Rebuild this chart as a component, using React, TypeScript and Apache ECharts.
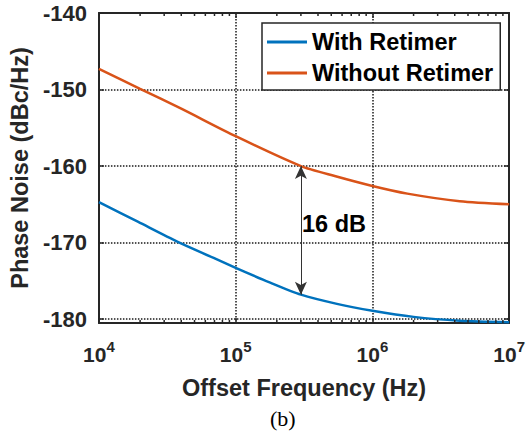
import React, { useEffect, useRef } from 'react';
import * as echarts from 'echarts';

const freqWith = [1e4, 1.94e4, 3.77e4, 6.9e4, 1e5, 1.77e5, 3e5, 5.5e5, 1e6, 2e6, 4.35e6, 1e7];
const withRetimer = [-164.7, -167.3, -169.9, -172.0, -173.3, -175.2, -176.8, -178.0, -178.9, -179.7, -180.2, -180.4];
const freqWithout = [1e4, 2e4, 4e4, 1e5, 3e5, 5.3e5, 1e6, 1.8e6, 4.35e6, 1e7];
const withoutRetimer = [-147.3, -149.9, -152.5, -156.1, -160.0, -161.3, -162.6, -163.6, -164.6, -165.0];
const yTicks = [-180, -170, -160, -150, -140];
const minorTicks = [2, 3, 4, 5, 6, 7, 8, 9].flatMap((m) => [1e4, 1e5, 1e6].map((d) => m * d));
const arrowFreq = 3e5;
const arrowTop = -160;
const arrowBottom = -176.8;

const X_MIN = 1e4;
const X_MAX = 1e7;
const Y_MIN = -180.5;
const Y_MAX = -140;

const FONT = '"Liberation Sans", Arial, Helvetica, sans-serif';
const AX = '#262626';

export default function App() {
  const ref = useRef<HTMLDivElement>(null);
  useEffect(() => {
    if (!ref.current) return;
    const chart = echarts.init(ref.current, null, { renderer: 'svg' });
    const labelFmt = (v: number) => `{b|10}{s|${Math.round(Math.log10(v))}}`;
    chart.setOption({
      animation: false,
      backgroundColor: '#fff',
      grid: { left: 95, right: 16, top: 13, bottom: 115, containLabel: false },
      legend: {
        data: ['With Retimer', 'Without Retimer'],
        orient: 'vertical',
        left: 262,
        top: 23,
        padding: [7, 7, 5, 5],
        itemGap: 7,
        itemWidth: 40,
        itemHeight: 3,
        icon: 'rect',
        borderColor: AX,
        borderWidth: 1.5,
        borderRadius: 0,
        backgroundColor: '#fff',
        selectedMode: false,
        textStyle: { fontFamily: FONT, fontWeight: 'bold', fontSize: 23.5, lineHeight: 23, color: '#000' },
      },
      xAxis: [
        {
          type: 'log',
          logBase: 10,
          min: X_MIN,
          max: X_MAX,
          position: 'bottom',
          name: 'Offset Frequency (Hz)',
          nameLocation: 'middle',
          nameGap: 53,
          nameTextStyle: { fontFamily: FONT, fontWeight: 'bold', fontSize: 23.5, color: AX },
          axisLine: { show: true, lineStyle: { color: AX, width: 2 } },
          axisTick: { show: true, inside: true, length: 5, lineStyle: { color: AX, width: 1.5 } },
          minorTick: { show: false },
          axisLabel: {
            margin: 16,
            formatter: labelFmt,
            rich: {
              b: { fontFamily: FONT, fontWeight: 'bold', fontSize: 21, color: AX, lineHeight: 30 },
              s: { fontFamily: FONT, fontWeight: 'bold', fontSize: 15, color: AX, lineHeight: 14, verticalAlign: 'top' },
            },
          },
          splitLine: { show: true, lineStyle: { color: '#1a1a1a', width: 1.5, type: [1.5, 1.5] } },
        },
        {
          type: 'log',
          logBase: 10,
          min: X_MIN,
          max: X_MAX,
          position: 'top',
          axisLine: { show: true, lineStyle: { color: AX, width: 2 } },
          axisTick: { show: true, inside: true, length: 5, lineStyle: { color: AX, width: 1.5 } },
          axisLabel: { show: false },
          splitLine: { show: false },
        },
      ],
      yAxis: [
        {
          type: 'value',
          min: Y_MIN,
          max: Y_MAX,
          position: 'left',
          name: 'Phase Noise (dBc/Hz)',
          nameLocation: 'middle',
          nameGap: 64,
          nameRotate: 90,
          nameTextStyle: { fontFamily: FONT, fontWeight: 'bold', fontSize: 23.5, color: AX },
          axisLine: { show: true, lineStyle: { color: AX, width: 2 } },
          axisTick: { show: true, inside: true, length: 5, customValues: yTicks, lineStyle: { color: AX, width: 1.5 } },
          axisLabel: {
            margin: 12,
            customValues: yTicks,
            fontFamily: FONT,
            fontWeight: 'bold',
            fontSize: 22,
            color: AX,
          },
          splitLine: { show: true, lineStyle: { color: '#1a1a1a', width: 1.5, type: [1.5, 1.5] } },
        },
        {
          type: 'value',
          min: Y_MIN,
          max: Y_MAX,
          position: 'right',
          axisLine: { show: true, lineStyle: { color: AX, width: 2 } },
          axisTick: { show: true, inside: true, length: 5, customValues: yTicks, lineStyle: { color: AX, width: 1.5 } },
          axisLabel: { show: false, customValues: yTicks },
          splitLine: { show: false },
        },
      ],
      series: [
        {
          name: 'With Retimer',
          type: 'line',
          xAxisIndex: 0,
          yAxisIndex: 0,
          data: freqWith.map((f, i) => [f, withRetimer[i]]),
          smooth: 0.25,
          symbol: 'none',
          color: '#0072BD',
          lineStyle: { color: '#0072BD', width: 2.5 },
          emphasis: { disabled: true },
          z: 3,
          markLine: {
            silent: true,
            symbol: ['arrow', 'arrow'],
            symbolSize: [9, 13],
            label: { show: false },
            emphasis: { disabled: true },
            lineStyle: { color: '#333', width: 1, type: 'solid' },
            data: [[{ coord: [arrowFreq, arrowTop] }, { coord: [arrowFreq, arrowBottom] }]],
          },
        },
        {
          name: 'Without Retimer',
          type: 'line',
          xAxisIndex: 0,
          yAxisIndex: 0,
          data: freqWithout.map((f, i) => [f, withoutRetimer[i]]),
          smooth: 0.25,
          symbol: 'none',
          color: '#D95319',
          lineStyle: { color: '#D95319', width: 2.5 },
          emphasis: { disabled: true },
          z: 3,
        },
        {
          name: 'minorTicks',
          type: 'custom',
          xAxisIndex: 0,
          yAxisIndex: 0,
          silent: true,
          clip: false,
          data: minorTicks.map((f) => [f, Y_MIN]),
          encode: { x: 0, y: 1 },
          renderItem: (_p: any, api: any) => {
            const x = api.value(0);
            const b = api.coord([x, Y_MIN]);
            const t = api.coord([x, Y_MAX]);
            const st = { stroke: AX, lineWidth: 1.5 };
            return {
              type: 'group',
              children: [
                { type: 'line', shape: { x1: b[0], y1: b[1], x2: b[0], y2: b[1] - 3 }, style: st },
                { type: 'line', shape: { x1: t[0], y1: t[1], x2: t[0], y2: t[1] + 3 }, style: st },
              ],
            };
          },
          z: 4,
        },
      ],
      graphic: [
        {
          type: 'text',
          left: 302,
          top: 212,
          style: { text: '16 dB', font: `bold 23.5px ${FONT}`, fill: '#000' },
          z: 10,
        },
        {
          type: 'text',
          left: 270,
          top: 407,
          style: { text: '(b)', font: '22px "Liberation Serif", "Times New Roman", serif', fill: '#000' },
          z: 10,
        },
      ],
    });
    return () => chart.dispose();
  }, []);
  return <div ref={ref} style={{ position: 'fixed', left: 0, top: 0, width: 528, height: 438 }} />;
}
